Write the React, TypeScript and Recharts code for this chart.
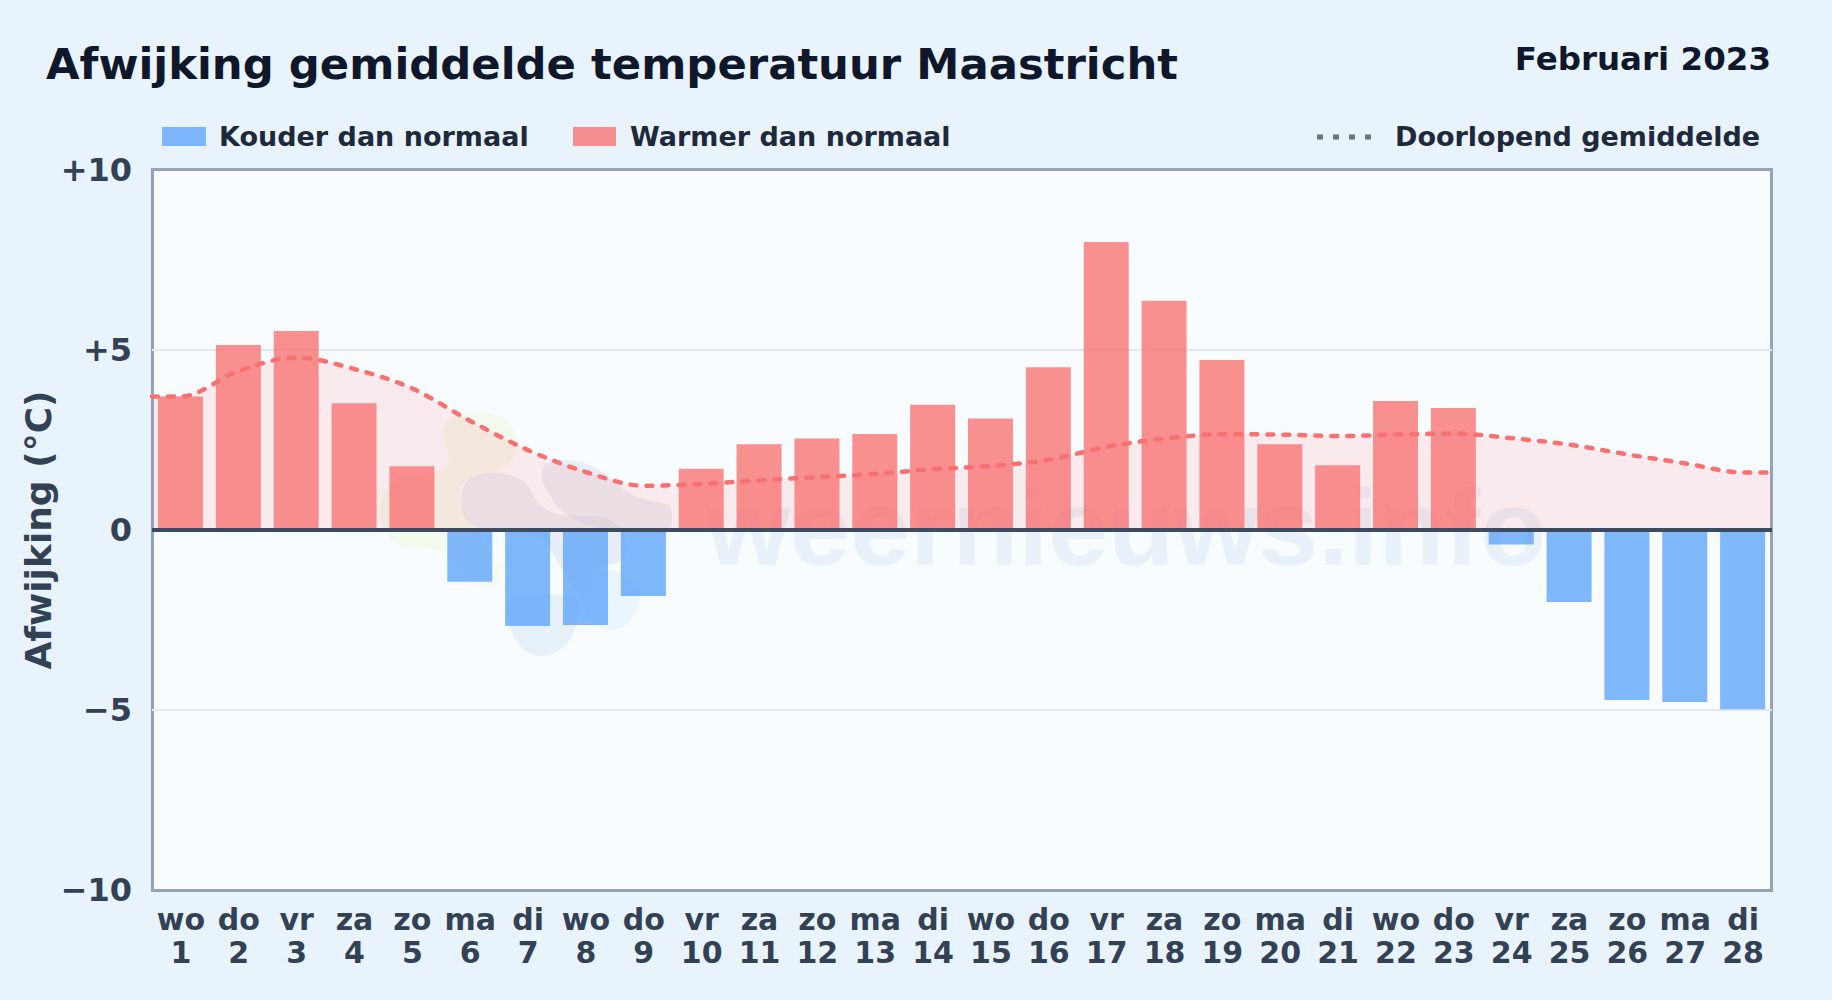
import { Area, Bar, CartesianGrid, ComposedChart, Line, ReferenceLine, XAxis, YAxis } from "recharts";

const FONT = "'DejaVu Sans', sans-serif";

const weekdays = ["wo", "do", "vr", "za", "zo", "ma", "di", "wo", "do", "vr", "za", "zo", "ma", "di", "wo", "do", "vr", "za", "zo", "ma", "di", "wo", "do", "vr", "za", "zo", "ma", "di"];
const days = [1, 2, 3, 4, 5, 6, 7, 8, 9, 10, 11, 12, 13, 14, 15, 16, 17, 18, 19, 20, 21, 22, 23, 24, 25, 26, 27, 28];
const deviation = [3.71, 5.14, 5.53, 3.52, 1.77, -1.44, -2.67, -2.64, -1.83, 1.7, 2.38, 2.54, 2.67, 3.48, 3.1, 4.52, 8.0, 6.37, 4.72, 2.38, 1.8, 3.58, 3.39, -0.4, -2.0, -4.72, -4.78, -4.98];
const runningMean = [3.71, 4.42, 4.79, 4.47, 3.93, 3.03, 2.22, 1.61, 1.23, 1.28, 1.38, 1.47, 1.56, 1.69, 1.78, 1.95, 2.31, 2.54, 2.66, 2.65, 2.61, 2.65, 2.68, 2.55, 2.37, 2.1, 1.85, 1.6];
const yTicks = [-10, -5, 0, 5, 10];

const barRows = days.map((day, i) => ({
  day,
  warm: deviation[i] > 0 ? deviation[i] : null,
  cold: deviation[i] < 0 ? deviation[i] : null,
}));

// the running mean runs on to both plot edges, so it gets its own number axis
const meanRows = [
  { pos: 0.5, mean: runningMean[0] },
  ...days.map((day, i) => ({ pos: day, mean: runningMean[i] })),
  { pos: 28.5, mean: runningMean[27] },
];

const formatY = (v: number) => (v > 0 ? `+${v}` : v < 0 ? `\u2212${Math.abs(v)}` : "0");

function DayTick({ x, y, payload }: any) {
  return (
    <text x={x} textAnchor="middle" fontFamily={FONT} fontWeight={700} fontSize={30} fill="#334155">
      <tspan x={x} y={y + 32}>{weekdays[payload.value - 1]}</tspan>
      <tspan x={x} y={y + 65}>{payload.value}</tspan>
    </text>
  );
}

function LegendRow() {
  const text = { position: "absolute", top: 121, fontSize: 27, fontWeight: 700, color: "#1e293b", whiteSpace: "nowrap" } as const;
  return (
    <>
      <div style={{ position: "absolute", left: 162, top: 127, width: 44, height: 19, background: "#60a5fa", opacity: 0.8 }} />
      <div style={{ ...text, left: 219 }}>Kouder dan normaal</div>
      <div style={{ position: "absolute", left: 573, top: 127, width: 43, height: 19, background: "#f87171", opacity: 0.78 }} />
      <div style={{ ...text, left: 630 }}>Warmer dan normaal</div>
      <svg style={{ position: "absolute", left: 1315, top: 134 }} width="60" height="6">
        <line x1="2" y1="3" x2="60" y2="3" stroke="#64748b" strokeWidth={5} strokeDasharray="6 10" />
      </svg>
      <div style={{ ...text, left: 1395 }}>Doorlopend gemiddelde</div>
    </>
  );
}

function Watermark() {
  return (
    <svg style={{ position: "absolute", left: 0, top: 0 }} width="1832" height="1000">
      <path d="M448 420 C470 405 515 412 517 440 C520 465 500 470 470 478 C445 490 470 520 500 570 C505 590 480 592 462 575 C450 555 440 545 410 548 C385 545 372 520 385 490 C405 470 440 480 450 460 C445 440 440 430 448 420 Z" fill="#eef3cf" opacity={0.35} />
      <path d="M470 478 C490 468 525 472 533 495 C545 520 575 515 600 517 C625 520 640 560 610 565 C590 570 600 590 585 600 C570 590 560 560 540 535 C510 530 470 540 462 510 C460 495 462 485 470 478 Z" fill="#cdd6e4" opacity={0.38} />
      <path d="M545 465 C560 455 590 460 610 478 C630 500 650 500 670 505 C675 520 670 530 665 535 L610 530 C580 525 560 515 550 495 C540 480 540 472 545 465 Z" fill="#cdd6e4" opacity={0.38} />
      <path d="M507 600 C530 595 560 590 578 600 C582 630 565 656 540 656 C520 656 505 630 507 600 Z" fill="#dbe7f3" opacity={0.6} />
      <path d="M590 575 C610 565 625 570 640 590 C642 615 625 632 605 630 C585 625 575 600 590 575 Z" fill="#e2f0fb" opacity={0.6} />
      <text x="706" y="565" fontFamily="'Liberation Sans', sans-serif" fontWeight={700} fontSize={108} fill="#d3e2f1" opacity={0.42}>weernieuws.info</text>
    </svg>
  );
}

export default function App() {
  return (
    <div style={{ position: "absolute", left: 0, top: 0, width: 1832, height: 1000, overflow: "hidden", background: "#e8f3fc", fontFamily: FONT }}>
      <div style={{ position: "absolute", left: 46, top: 39, fontSize: 43.35, fontWeight: 700, color: "#0f172a", whiteSpace: "nowrap" }}>
        Afwijking gemiddelde temperatuur Maastricht
      </div>
      <div style={{ position: "absolute", right: 61, top: 40, fontSize: 32.5, fontWeight: 700, color: "#0f172a", whiteSpace: "nowrap" }}>
        Februari 2023
      </div>
      <LegendRow />

      {/* plot background and watermark sit under the chart svg */}
      <div style={{ position: "absolute", left: 151, top: 168, width: 1616, height: 718, border: "3px solid #94a3b8", background: "#f8fcff" }} />
      <Watermark />

      <div style={{ position: "absolute", left: 0, top: 0 }}>
        <ComposedChart width={1832} height={1000} data={barRows} margin={{ top: 170, right: 60, bottom: 0, left: 0 }}>
          <CartesianGrid vertical={false} horizontalValues={[-5, 5]} stroke="#e0e7ee" strokeWidth={2} />
          <XAxis
            dataKey="day"
            interval={0}
            height={110}
            axisLine={false}
            tickLine={false}
            tick={<DayTick />}
          />
          <XAxis xAxisId="mean" dataKey="pos" type="number" domain={[0.5, 28.5]} hide />
          <YAxis
            type="number"
            domain={[-10, 10]}
            ticks={yTicks}
            interval={0}
            width={152}
            axisLine={false}
            tickLine={false}
            tickMargin={14}
            tickFormatter={formatY}
            tick={{ fontFamily: FONT, fontWeight: 700, fontSize: 32, fill: "#334155" }}
            label={{ value: "Afwijking (°C)", angle: -90, position: "insideLeft", offset: 38, style: { fontFamily: FONT, fontWeight: 700, fontSize: 36, fill: "#334155", textAnchor: "middle" } }}
          />
          <Area xAxisId="mean" data={meanRows} dataKey="mean" type="monotone" baseValue={0} stroke="none" fill="#f87171" fillOpacity={0.13} isAnimationActive={false} />
          <Bar dataKey="warm" stackId="d" barSize={45} fill="#f87171" fillOpacity={0.78} isAnimationActive={false} />
          <Bar dataKey="cold" stackId="d" barSize={45} fill="#60a5fa" fillOpacity={0.8} isAnimationActive={false} />
          <ReferenceLine y={0} stroke="#3d4a5f" strokeWidth={4} />
          <Line xAxisId="mean" data={meanRows} dataKey="mean" type="monotone" stroke="#f87171" strokeWidth={4.5} strokeLinecap="round" strokeDasharray="6 10" dot={false} isAnimationActive={false} />
        </ComposedChart>
      </div>
    </div>
  );
}
